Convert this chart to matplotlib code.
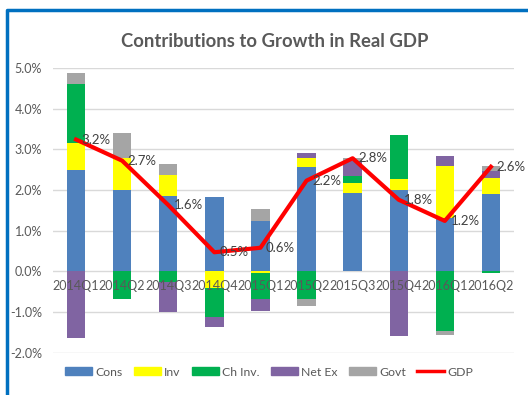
import matplotlib
matplotlib.use("Agg")
import matplotlib.pyplot as plt
from matplotlib.lines import Line2D
from matplotlib.patches import Patch
import numpy as np

plt.rcParams['font.family'] = ['Lato', 'DejaVu Sans']

quarters = ["2014Q1", "2014Q2", "2014Q3", "2014Q4", "2015Q1",
            "2015Q2", "2015Q3", "2015Q4", "2016Q1", "2016Q2"]
cons = [2.49, 2.01, 1.86, 1.82, 1.25, 2.56, 1.93, 1.99, 1.31, 1.91]
inv = [0.67, 0.78, 0.52, -0.41, -0.05, 0.23, 0.23, 0.27, 1.29, 0.39]
ch_inv = [1.45, -0.68, -0.25, -0.70, -0.63, -0.68, 0.18, 1.09, -1.46, -0.04]
net_ex = [-1.63, 0.0, -0.75, -0.26, -0.29, 0.13, 0.37, -1.60, 0.23, 0.16]
govt = [0.27, 0.60, 0.25, 0.0, 0.29, -0.16, 0.08, 0.0, -0.10, 0.13]
gdp = [3.24, 2.72, 1.63, 0.47, 0.58, 2.23, 2.78, 1.76, 1.24, 2.57]

series = [("Cons", cons, "#4F81BD"),
          ("Inv", inv, "#FFFF00"),
          ("Ch Inv.", ch_inv, "#00B050"),
          ("Net Ex", net_ex, "#8064A2"),
          ("Govt", govt, "#A5A5A5")]

txt = "#595959"

fig = plt.figure(figsize=(5.28, 3.95), dpi=100)
ax = fig.add_axes([0.1004, 0.107, 0.873, 0.721])

x = np.arange(len(quarters))
pos = np.zeros(len(quarters))
neg = np.zeros(len(quarters))
for name, vals, col in series:
    v = np.array(vals)
    bottom = np.where(v >= 0, pos, neg)
    ax.bar(x, v, 0.4, bottom=bottom, color=col, zorder=2)
    pos = pos + np.clip(v, 0, None)
    neg = neg + np.clip(v, None, 0)

ax.plot(x, gdp, color="#FF0000", lw=3, zorder=4)
for xi, g in zip(x, gdp):
    ax.annotate(f"{g:.1f}%", (xi, g), xytext=(4, 0), textcoords="offset points",
                ha="left", va="center", fontsize=9.5, color="#404040", zorder=5)

# category labels sit just under the zero line, on top of the bars
for xi, q in zip(x, quarters):
    ax.annotate(q, (xi, 0), xytext=(0, -6), textcoords="offset points",
                ha="center", va="top", fontsize=9, color=txt, zorder=6)

ax.set_xlim(-0.5, len(quarters) - 0.5)
ax.set_ylim(-2, 5)
ax.set_yticks(range(-2, 6))
ax.set_yticklabels([f"{t:.1f}%" for t in range(-2, 6)])
ax.yaxis.grid(True, color="#D9D9D9", lw=1, zorder=0)
ax.set_axisbelow(True)
for s in ax.spines.values():
    s.set_visible(False)
ax.set_xticks([])
ax.tick_params(axis='y', length=0, pad=8, labelsize=9, labelcolor=txt)

fig.text(0.52, 0.896, "Contributions to Growth in Real GDP", ha="center", va="center",
         fontsize=13.3, fontweight="bold", color=txt)

handles = [Patch(color=c, label=n) for n, _, c in series]
handles.append(Line2D([0], [0], color="#FF0000", lw=2.5, label="GDP"))
leg = fig.legend(handles=handles, loc="center", bbox_to_anchor=(0.51, 0.058), ncol=6,
                 frameon=False, fontsize=8.8, handlelength=2.2, handleheight=0.6,
                 columnspacing=0.9, handletextpad=0.3)
for t in leg.get_texts():
    t.set_color(txt)

# blue chart frame (left and top edges)
fig.add_artist(Line2D([7 / 528, 7 / 528, 1.0], [0.0, 1 - 10 / 395, 1 - 10 / 395],
                      color="#0070C0", lw=2.5, transform=fig.transFigure))

fig.savefig("out.png", dpi=100)
